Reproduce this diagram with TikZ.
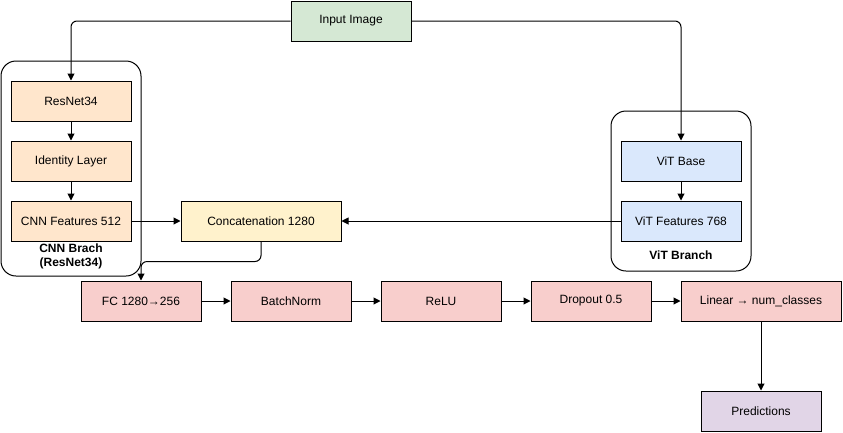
\documentclass[tikz,border=0pt]{standalone}
\usepackage{fontspec}
\setmainfont{Liberation Sans}
\usetikzlibrary{arrows.meta}
\definecolor{ingreen}{HTML}{D5E8D4}
\definecolor{cnnorange}{HTML}{FFE6CC}
\definecolor{catyellow}{HTML}{FFF2CC}
\definecolor{vitblue}{HTML}{DAE8FC}
\definecolor{headred}{HTML}{F8CECC}
\definecolor{predpurple}{HTML}{E1D5E7}
\tikzset{
	blk/.style={draw=black, line width=1pt, minimum width=120pt, minimum height=40pt, inner sep=0pt, font=\fontsize{12}{14}\selectfont},
	grp/.style={draw=black, line width=1pt, rounded corners=15pt, inner sep=0pt},
	grplbl/.style={align=center, font=\fontsize{12}{14}\selectfont\bfseries},
	flow/.style={draw=black, line width=1pt, rounded corners=6pt, -{Triangle[length=7pt,width=7pt]}}
}
\begin{document}
\begin{tikzpicture}[x=1pt, y=-1pt]
		\useasboundingbox (0,0) rectangle (843,432);
		% branch groups
		\node[grp, minimum width=140pt, minimum height=215pt] (cnngrp) at (71,168.5) {};
		\node[grp, minimum width=140pt, minimum height=160pt] (vitgrp) at (681,191) {};
		\node[grplbl] (cnnlbl) at (71,256) {CNN Brach\\(ResNet34)};
		\node[grplbl] (vitlbl) at (681,255) {ViT Branch};
		% input
		\node[blk, fill=ingreen] (input) at (351,21) {Input Image};
		% cnn branch
		\node[blk, fill=cnnorange] (resnet) at (71,101) {ResNet34};
		\node[blk, fill=cnnorange] (identity) at (71,161) {Identity Layer};
		\node[blk, fill=cnnorange] (cnnfeat) at (71,221) {CNN Features 512};
		% vit branch
		\node[blk, fill=vitblue] (vitbase) at (681,161) {ViT Base};
		\node[blk, fill=vitblue] (vitfeat) at (681,221) {ViT Features 768};
		% fusion and head
		\node[blk, fill=catyellow, minimum width=160pt] (concat) at (261,221) {Concatenation 1280};
		\node[blk, fill=headred] (fc) at (141,301) {FC 1280\textrightarrow256};
		\node[blk, fill=headred] (bnorm) at (291,301) {BatchNorm};
		\node[blk, fill=headred] (relu) at (441,301) {ReLU};
		\node[blk, fill=headred] (dropout) at (591,301) {Dropout 0.5};
		\node[blk, fill=headred, minimum width=160pt] (linear) at (761,301) {Linear \textrightarrow\ num\_classes};
		\node[blk, fill=predpurple] (pred) at (761,411) {Predictions};
		% connectors
		\draw[flow] (input.west) -| (resnet.north);
		\draw[flow] (input.east) -| (vitbase.north);
		\draw[flow] (resnet) -- (identity);
		\draw[flow] (identity) -- (cnnfeat);
		\draw[flow] (vitbase) -- (vitfeat);
		\draw[flow] (cnnfeat) -- (concat);
		\draw[flow] (vitfeat) -- (concat);
		\draw[flow] (concat.south) -- ++(0,20) -| (fc.north);
		\draw[flow] (fc) -- (bnorm);
		\draw[flow] (bnorm) -- (relu);
		\draw[flow] (relu) -- (dropout);
		\draw[flow] (dropout) -- (linear);
		\draw[flow] (linear) -- (pred);
	\end{tikzpicture}
\end{document}
